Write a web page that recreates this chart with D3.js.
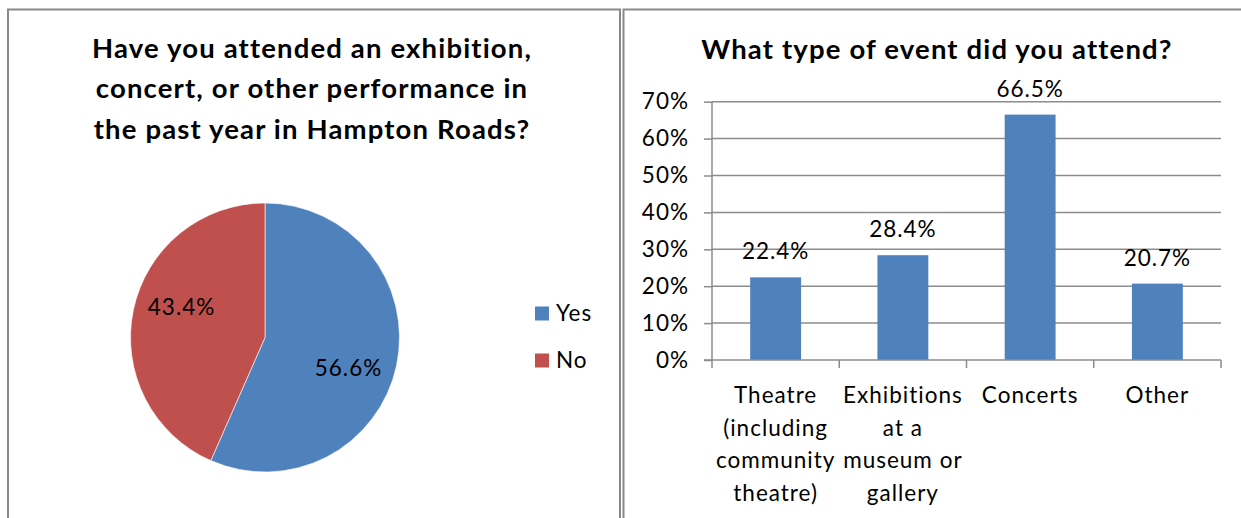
<!DOCTYPE html>
<html>
<head>
<meta charset="utf-8">
<script src="https://cdn.jsdelivr.net/npm/d3@7"></script>
<style>
  html, body { margin: 0; padding: 0; background: #fff; }
  svg { display: block; font-family: Lato, "Open Sans", sans-serif; }
</style>
</head>
<body>
<svg id="chart" width="1241" height="518"></svg>
<script>
// Survey answers: attendance in the past year
const pieLabels = ["Yes", "No"];
const pieValues = [56.6, 43.4];
const pieColors = ["#4F81BD", "#C0504D"];

// Type of event attended
const categories = ["Theatre\n(including\ncommunity\ntheatre)", "Exhibitions\nat a\nmuseum or\ngallery", "Concerts", "Other"];
const barValues = [22.4, 28.4, 66.5, 20.7];
const yTicks = [0, 10, 20, 30, 40, 50, 60, 70];

const svg = d3.select("#chart");
const frame = "#898989";
const bodySize = 22.5, bodySpacing = 1;
const titleSize = 27.5, titleSpacing = 1.15;

// Panel frames
svg.append("path")
  .attr("d", "M8,519 V9.5 H620 V519")
  .attr("fill", "none").attr("stroke", frame).attr("stroke-width", 2);
svg.append("path")
  .attr("d", "M623.5,519 V9.5 H1245")
  .attr("fill", "none").attr("stroke", frame).attr("stroke-width", 2);

// ---- Left panel: pie ----
const leftTitle = ["Have you attended an exhibition,", "concert, or other performance in", "the past year in Hampton Roads?"];
svg.append("text")
  .attr("x", 312).attr("y", 57.5)
  .attr("text-anchor", "middle")
  .attr("font-size", titleSize).attr("letter-spacing", titleSpacing)
  .attr("font-weight", 700).attr("fill", "#000")
  .selectAll("tspan").data(leftTitle).join("tspan")
  .attr("x", 312).attr("dy", (d, i) => i === 0 ? 0 : 40.5)
  .text(d => d);

const cx = 265, cy = 337.5, r = 134.5;
const pie = d3.pie().sort(null).value(d => d)(pieValues);
const arc = d3.arc().innerRadius(0).outerRadius(r);
const pg = svg.append("g").attr("transform", `translate(${cx},${cy})`);
pg.selectAll("path").data(pie).join("path")
  .attr("d", arc)
  .attr("fill", (d, i) => pieColors[i])
  .attr("stroke", "#fff").attr("stroke-width", 0.6);
// Percentage labels sit inside each slice, slightly past its mid angle
pg.selectAll("text").data(pie).join("text")
  .attr("transform", d => {
    const a = (d.startAngle + d.endAngle) / 2 + 0.14;
    const rr = r * 0.66;
    return `translate(${rr * Math.sin(a)},${-rr * Math.cos(a)})`;
  })
  .attr("text-anchor", "middle").attr("dy", "0.35em")
  .attr("font-size", bodySize).attr("letter-spacing", bodySpacing).attr("fill", "#000")
  .text(d => d.value.toFixed(1) + "%");

// Legend
const lg = svg.append("g");
pieLabels.forEach((lab, i) => {
  const y = 313.5 + i * 47;
  lg.append("rect").attr("x", 535).attr("y", y - 7).attr("width", 14).attr("height", 14)
    .attr("fill", pieColors[i]);
  lg.append("text").attr("x", 556).attr("y", y).attr("dy", "0.35em")
    .attr("font-size", bodySize).attr("letter-spacing", bodySpacing)
    .attr("fill", "#000").text(lab);
});

// ---- Right panel: bars ----
svg.append("text")
  .attr("x", 937).attr("y", 59)
  .attr("text-anchor", "middle")
  .attr("font-size", titleSize).attr("letter-spacing", titleSpacing)
  .attr("font-weight", 700).attr("fill", "#000")
  .text("What type of event did you attend?");

const x0 = 712, x1 = 1221, yTop = 101.7, yBot = 360;
const x = d3.scaleBand().domain(categories).range([x0, x1]).paddingInner(0.6).paddingOuter(0.3);
const y = d3.scaleLinear().domain([0, 70]).range([yBot, yTop]);
const grid = "#8C8C8C";

// Gridlines
svg.append("g").selectAll("line").data(yTicks.filter(t => t > 0)).join("line")
  .attr("x1", x0).attr("x2", x1)
  .attr("y1", d => y(d)).attr("y2", d => y(d))
  .attr("stroke", grid).attr("stroke-width", 1.5);

// Bars
svg.append("g").selectAll("rect").data(barValues).join("rect")
  .attr("x", (d, i) => x(categories[i]))
  .attr("width", x.bandwidth())
  .attr("y", d => y(d))
  .attr("height", d => yBot - y(d))
  .attr("fill", "#4F81BD");

// Value labels
svg.append("g").selectAll("text").data(barValues).join("text")
  .attr("x", (d, i) => x(categories[i]) + x.bandwidth() / 2)
  .attr("y", d => y(d) - 18)
  .attr("text-anchor", "middle")
  .attr("font-size", bodySize).attr("letter-spacing", bodySpacing).attr("fill", "#000")
  .text(d => d.toFixed(1) + "%");

// Y axis
const yAxis = svg.append("g").attr("transform", `translate(${x0},0)`)
  .call(d3.axisLeft(y).tickValues(yTicks).tickSize(8).tickPadding(15).tickFormat(d => d + "%"));
yAxis.select(".domain").attr("stroke", grid).attr("stroke-width", 1.5).attr("d", `M0,${yTop}V${yBot}`);
yAxis.selectAll(".tick line").attr("stroke", grid).attr("stroke-width", 1.5);
yAxis.selectAll(".tick text").attr("font-size", bodySize).attr("letter-spacing", bodySpacing)
  .attr("fill", "#000").attr("font-family", "Lato, sans-serif");

// X axis
const xAxisG = svg.append("g");
xAxisG.append("line").attr("x1", x0 - 8).attr("x2", x1).attr("y1", yBot).attr("y2", yBot)
  .attr("stroke", grid).attr("stroke-width", 1.5);
const bounds = d3.range(categories.length + 1).map(i => x0 + i * (x1 - x0) / categories.length);
xAxisG.selectAll(".xt").data(bounds).join("line")
  .attr("x1", d => d).attr("x2", d => d).attr("y1", yBot).attr("y2", yBot + 8)
  .attr("stroke", grid).attr("stroke-width", 1.5);
xAxisG.selectAll("text").data(categories).join("text")
  .attr("text-anchor", "middle").attr("font-size", bodySize).attr("letter-spacing", bodySpacing)
  .attr("fill", "#000")
  .attr("y", 403)
  .each(function(d) {
    const cxl = x(d) + x.bandwidth() / 2;
    d3.select(this).selectAll("tspan").data(d.split("\n")).join("tspan")
      .attr("x", cxl).attr("dy", (t, i) => i === 0 ? 0 : 32.5).text(t => t);
  });
</script>
</body>
</html>
